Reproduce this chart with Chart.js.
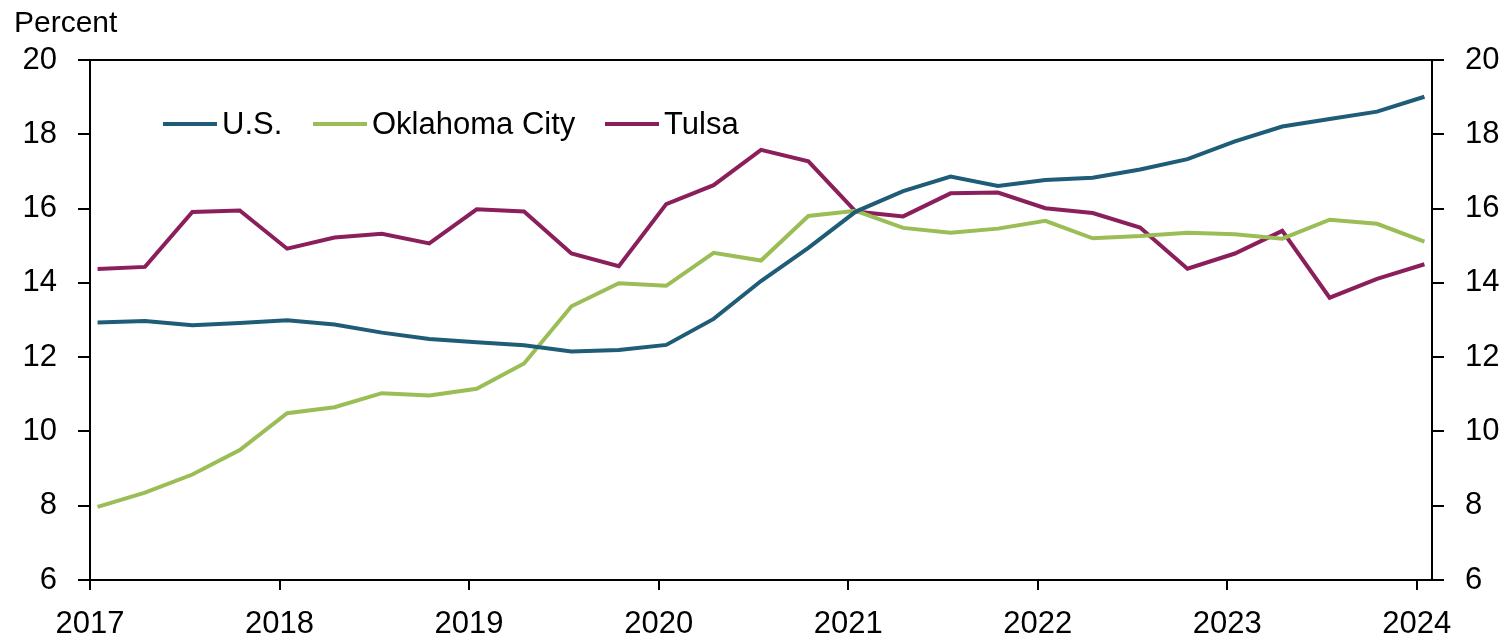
<!DOCTYPE html>
<html>
<head>
<meta charset="utf-8">
<script src="https://cdn.jsdelivr.net/npm/chart.js@4/dist/chart.umd.min.js"></script>
<style>
  html, body { margin: 0; padding: 0; background: #fff; }
  #wrap { width: 1505px; height: 640px; }
</style>
</head>
<body>
<div id="wrap"><canvas id="mainChart"></canvas></div>
<script>
// quarterly observations, 2017 Q1 .. 2024 Q1
const quarters = [
  "2017Q1","2017Q2","2017Q3","2017Q4",
  "2018Q1","2018Q2","2018Q3","2018Q4",
  "2019Q1","2019Q2","2019Q3","2019Q4",
  "2020Q1","2020Q2","2020Q3","2020Q4",
  "2021Q1","2021Q2","2021Q3","2021Q4",
  "2022Q1","2022Q2","2022Q3","2022Q4",
  "2023Q1","2023Q2","2023Q3","2023Q4",
  "2024Q1"
];
const usValues = [
  12.93, 12.97, 12.86, 12.92,
  12.99, 12.88, 12.66, 12.49,
  12.40, 12.32, 12.15, 12.19,
  12.33, 13.03, 14.05, 14.94,
  15.92, 16.47, 16.86, 16.61,
  16.77, 16.83, 17.05, 17.33,
  17.81, 18.21, 18.41, 18.61,
  19.01
];
const okcValues = [
  7.97, 8.35, 8.84, 9.50,
  10.49, 10.65, 11.03, 10.97,
  11.15, 11.83, 13.37, 13.99,
  13.92, 14.81, 14.60, 15.80,
  15.94, 15.48, 15.35, 15.46,
  15.67, 15.20, 15.26, 15.35,
  15.31, 15.19, 15.70, 15.59,
  15.11
];
const tulsaValues = [
  14.37, 14.43, 15.91, 15.95,
  14.92, 15.22, 15.32, 15.06,
  15.98, 15.92, 14.79, 14.45,
  16.12, 16.63, 17.58, 17.27,
  15.92, 15.79, 16.41, 16.43,
  16.01, 15.88, 15.49, 14.38,
  14.79, 15.40, 13.60, 14.11,
  14.50
];
const yearTicks = [2017, 2018, 2019, 2020, 2021, 2022, 2023, 2024];
const yTicks = [6, 8, 10, 12, 14, 16, 18, 20];

const FONT = "'Liberation Sans', Arial, sans-serif";

// place each quarter a little after the start of its quarter
function quarterX(q) {
  const yr = parseInt(q.slice(0, 4));
  const n = parseInt(q.slice(5));
  return yr + (n - 1) * 0.25 + 0.04;
}
function toPoints(vals) {
  return vals.map((v, i) => ({ x: quarterX(quarters[i]), y: v }));
}

// legend drawn inside the plot, like the original
const innerLegend = {
  id: 'innerLegend',
  afterDatasetsDraw(chart) {
    const ctx = chart.ctx;
    const spots = [163, 313, 605];
    const y = 124;
    ctx.save();
    ctx.font = "31px " + FONT;
    ctx.textBaseline = 'middle';
    ctx.fillStyle = '#000';
    chart.data.datasets.forEach((ds, i) => {
      ctx.strokeStyle = ds.borderColor;
      ctx.lineWidth = 4;
      ctx.beginPath();
      ctx.moveTo(spots[i], y);
      ctx.lineTo(spots[i] + 54, y);
      ctx.stroke();
      ctx.fillText(ds.label, spots[i] + 59, y + 1);
    });
    ctx.restore();
  }
};

const yAxisBase = {
  type: 'linear',
  min: 6,
  max: 20,
  afterBuildTicks: (axis) => { axis.ticks = yTicks.map(v => ({ value: v })); },
  grid: { drawOnChartArea: false, tickLength: 12, color: '#000', lineWidth: 2 },
  border: { color: '#000', width: 2 },
  ticks: { color: '#000', font: { family: FONT, size: 31 }, padding: 21 }
};

new Chart(document.getElementById('mainChart'), {
  type: 'line',
  data: {
    datasets: [
      { label: 'U.S.', data: toPoints(usValues), borderColor: '#1f5c78' },
      { label: 'Oklahoma City', data: toPoints(okcValues), borderColor: '#9bbd56' },
      { label: 'Tulsa', data: toPoints(tulsaValues), borderColor: '#8b1f5c' }
    ]
  },
  options: {
    responsive: true,
    maintainAspectRatio: false,
    animation: false,
    elements: {
      line: { borderWidth: 4, tension: 0, fill: false },
      point: { radius: 0, hoverRadius: 0 }
    },
    layout: { padding: { left: 14, right: 4, top: 0, bottom: 0 } },
    plugins: {
      legend: { display: false },
      tooltip: { enabled: false },
      title: {
        display: true,
        text: 'Percent',
        align: 'start',
        color: '#000',
        font: { family: FONT, size: 30, weight: 'normal' },
        padding: { top: 6, bottom: 18 }
      }
    },
    scales: {
      x: {
        type: 'linear',
        position: 'bottom',
        min: 2017,
        max: 2024.08,
        afterBuildTicks: (axis) => { axis.ticks = yearTicks.map(v => ({ value: v })); },
        afterFit: (axis) => { axis.height = 60; },
        grid: { drawOnChartArea: false, tickLength: 10, color: '#000', lineWidth: 2 },
        border: { color: '#000', width: 2 },
        ticks: {
          color: '#000',
          font: { family: FONT, size: 31 },
          padding: 16,
          maxRotation: 0,
          callback: (v) => String(v)
        }
      },
      xTop: {
        type: 'linear',
        position: 'top',
        min: 2017,
        max: 2024.08,
        afterFit: (axis) => { axis.height = 0; },
        grid: { display: false },
        border: { color: '#000', width: 2 },
        ticks: { display: false }
      },
      y: Object.assign({ position: 'left', afterFit: (axis) => { axis.width = 76; } }, yAxisBase),
      yRight: Object.assign({ position: 'right', afterFit: (axis) => { axis.width = 69; } }, yAxisBase)
    }
  },
  plugins: [innerLegend]
});
</script>
</body>
</html>
